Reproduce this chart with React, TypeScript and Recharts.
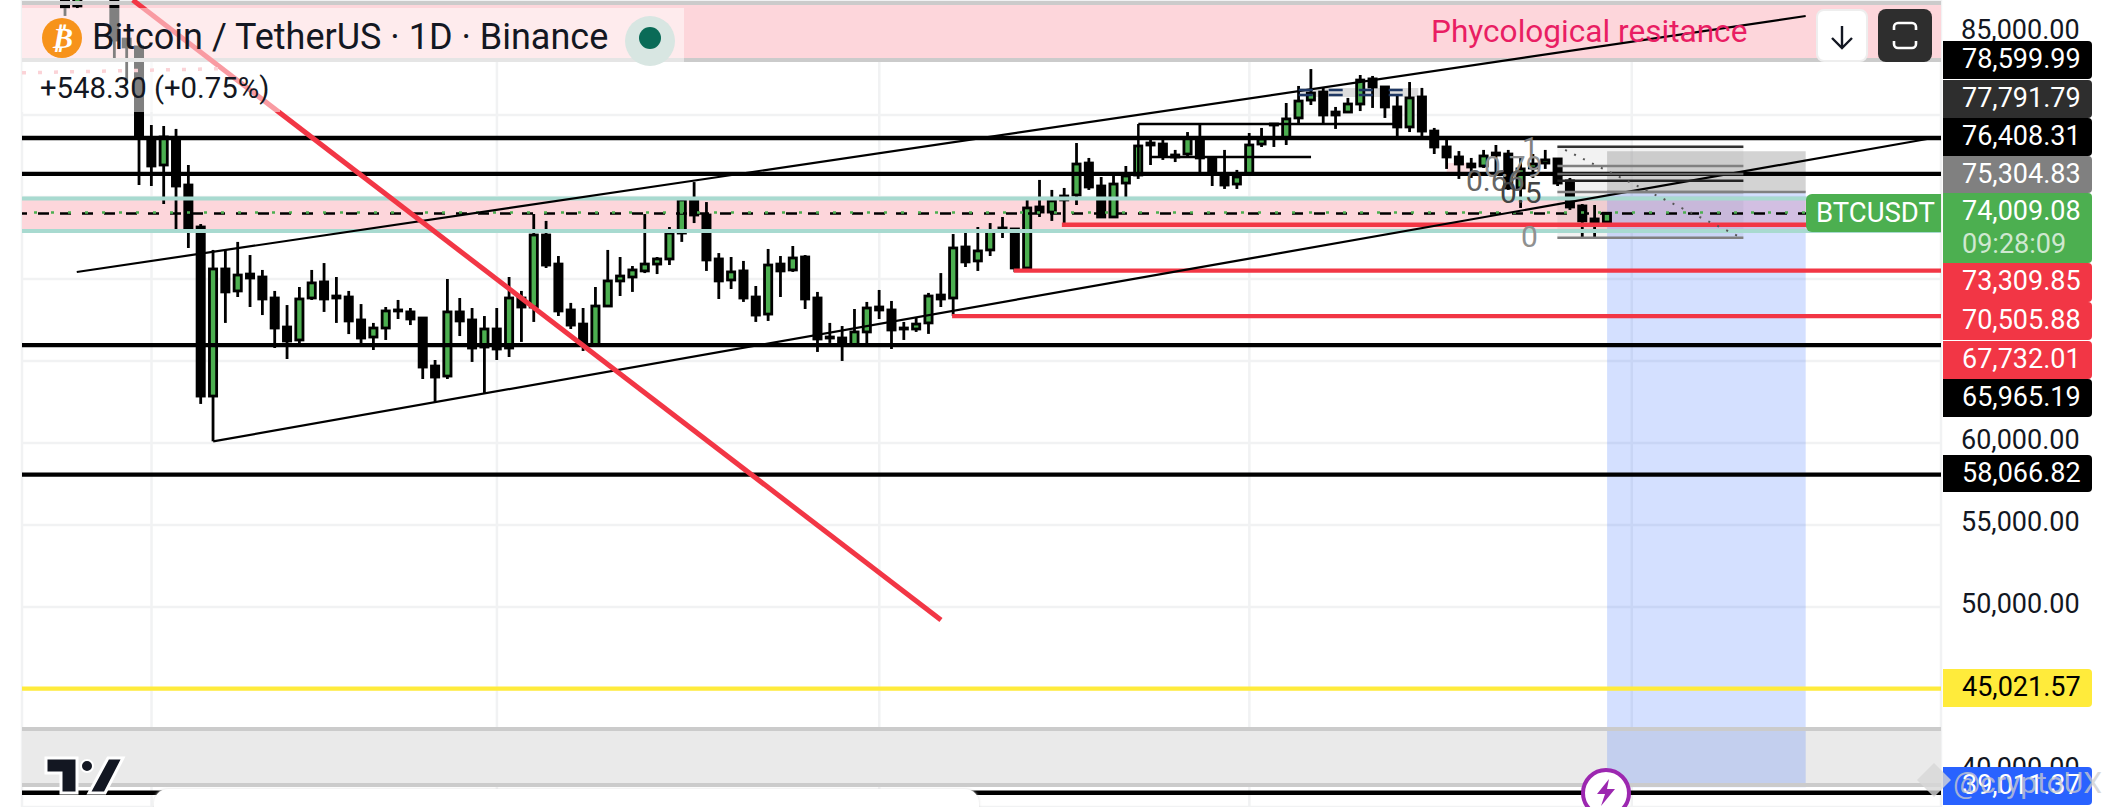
import React from "react";
import {
  Bar,
  CartesianGrid,
  ComposedChart,
  ReferenceArea,
  ReferenceLine,
  XAxis,
  YAxis,
} from "recharts";

const COLORS = {
  up: "#4CAF50",
  ink: "#000000",
  red: "#F23645",
  pink: "#FDD6DB",
  teal: "#A8DAD0",
  grid: "#F1F2F3",
  blue: "#2962FF",
  yellow: "#FFEB3B",
  text: "#131722",
};

const FONT = "Roboto, sans-serif";

const opens = [
  null, null, null, 87320, 86650, null, null, 87320, 84630, 84150,
  78600, 76950, 78540, 75730, 73170, 62860, 70610, 69270, 70300, 70120,
  68840, 67070, 66280, 68840, 69820, 68960, 68900, 67500, 66460, 67010,
  68110, 67990, 67620, 64690, 64080, 67990, 67500, 65850, 66950, 65790,
  68840, 68290, 72680, 70910, 68110, 67250, 65970, 68350, 69880, 70120,
  70490, 70910, 71220, 72800, 74820, 73900, 71220, 69940, 70490, 68900,
  67860, 70910, 70550, 71340, 68840, 66460, 66400, 65970, 66770, 68290,
  68110, 67010, 66950, 67320, 69020, 68840, 71950, 71100, 71770, 73110,
  73050, 70670, 74390, 74080, 74820, 75120, 77070, 75670, 73780, 75850,
  76340, 78290, 78230, 77560, 77620, 78540, 77380, 76280, 75790, 76400,
  78230, 79450, 78600, 79820, 80910, 81400, 80180, 80180, 80670, 82200,
  81710, 80490, 79270, 81100, 79020, 78050, 77440, 77010, 76890, 77680,
  77620, 75550, 76770, 77070, 77320, 75980, 74450, 73660, 73474,
];
const highs = [
  null, null, null, 87620, 87620, null, null, 87620, 84630, 84150,
  79390, 79330, 79150, 76950, 73350, 71770, 71770, 72260, 71460, 70550,
  69270, 68410, 69510, 70550, 70970, 70120, 69270, 68470, 67320, 68290,
  68720, 68230, 67680, 65060, 70000, 68840, 68230, 67740, 68230, 70120,
  69270, 73960, 73540, 71400, 68540, 68230, 69510, 71770, 71340, 70790,
  73960, 71340, 73170, 74820, 75910, 74690, 71580, 71340, 71100, 69570,
  71830, 71400, 72010, 71460, 69210, 67320, 67130, 68170, 68600, 69330,
  68660, 67380, 67620, 69150, 70360, 72740, 72870, 73170, 73410, 73780,
  73050, 74880, 76040, 75430, 75550, 78290, 77380, 76220, 76280, 76890,
  78110, 78540, 78540, 77870, 78960, 79450, 77380, 77870, 76650, 78900,
  79210, 79450, 80730, 81770, 82800, 81650, 80490, 81040, 82440, 82380,
  81710, 81280, 82010, 81650, 79210, 78480, 77800, 77380, 77870, 78170,
  77870, 77380, 77620, 77870, 77320, 76160, 74570, 74510, 74009,
];
const lows = [
  null, null, null, 86040, 86520, null, null, 83350, 81950, 75730,
  75670, 74570, 72930, 71890, 62380, 60100, 67320, 68900, 68290, 67800,
  65790, 65120, 65970, 68720, 67990, 67320, 66640, 65970, 65670, 66280,
  67560, 67190, 63900, 62500, 63900, 66520, 64940, 63050, 65060, 65240,
  66160, 67380, 70670, 67740, 66950, 65610, 65970, 68350, 68960, 69210,
  70360, 70300, 70850, 72260, 73410, 70490, 68780, 69390, 68600, 67380,
  67440, 68900, 70430, 68170, 65550, 66100, 65000, 65850, 65970, 67560,
  65730, 66280, 66770, 66650, 68290, 67740, 70730, 70490, 71400, 72500,
  70430, 70550, 73780, 73540, 73290, 74510, 75430, 73780, 73780, 74820,
  76100, 76950, 77260, 77130, 77380, 76520, 75670, 75490, 75490, 76400,
  78050, 78050, 78170, 79510, 80610, 79510, 79150, 80120, 80240, 80430,
  79820, 78600, 78960, 78600, 77620, 76710, 76100, 76160, 76770, 76340,
  75430, 74330, 76160, 76710, 75670, 74210, 72560, 72500, 73230,
];
const closes = [
  null, null, null, 86590, 87320, null, null, 84570, 84150, 78660,
  76890, 78660, 75670, 73110, 62860, 70610, 69210, 70240, 70060, 68780,
  67010, 66220, 68780, 69760, 68780, 68840, 67440, 66400, 67010, 68050,
  68050, 67560, 64630, 64020, 67990, 67440, 65790, 66950, 65730, 68840,
  68290, 72680, 70850, 68050, 67190, 65970, 68350, 69880, 70180, 70550,
  70910, 71220, 72800, 74820, 73900, 71160, 69880, 70430, 68840, 67800,
  70850, 70490, 71280, 68780, 66340, 66400, 65970, 66770, 68230, 68110,
  66890, 66950, 67250, 68960, 68780, 71890, 71040, 71710, 72930, 72990,
  70670, 74330, 74080, 74760, 75060, 77010, 75610, 73780, 75790, 76280,
  78110, 78170, 77500, 77440, 78600, 77380, 76460, 75730, 76220, 78170,
  78540, 79390, 79760, 80850, 81340, 80000, 80000, 80670, 82130, 81710,
  80490, 79270, 81040, 79020, 78050, 77440, 77010, 76830, 77500, 77560,
  75550, 76710, 77010, 77260, 75850, 74390, 73540, 73410, 74009.08,
];

const slotCount = 155;
const monthTicks = [10, 38, 69, 99, 130];
const priceTicks = [85000, 80000, 75000, 70000, 65000, 60000, 55000, 50000, 45000, 40000];

const blackLevels = [78599.99, 76408.31, 65965.19, 58066.82, 38670];
const redLevels = [
  { price: 73309.85, from: 83.8 },
  { price: 70505.88, from: 79.9 },
  { price: 67732.01, from: 74.9 },
];
const bandEdges = [
  { price: 86829, color: "#CBCBCB" },
  { price: 83353, color: "#CBCBCB" },
  { price: 74907, color: COLORS.teal },
  { price: 72925, color: COLORS.teal },
  { price: 42557, color: "#CBCBCB" },
  { price: 39142, color: "#CBCBCB" },
];
const channelUpper = [
  { x: 3.94, y: 70425 },
  { x: 144.1, y: 86036 },
];
const channelLower = [
  { x: 15, y: 60098 },
  { x: 154.4, y: 78597 },
];
const downTrend = [
  { x: 8.48, y: 87012 },
  { x: 74, y: 49204 },
];
const fibLevels = [
  { price: 78066, color: "#333333" },
  { price: 76889, color: "#808080" },
  { price: 76402, color: "#666666" },
  { price: 75993, color: "#222222" },
  { price: 75304, color: "#808080" },
  { price: 72517, color: "#808080" },
];
const fibLabels = [
  { text: "1", left: 1522, top: 148, color: "#808080" },
  { text: "0.79", left: 1484, top: 167, color: "#909090" },
  { text: "0.66", left: 1466, top: 181, color: "#666666" },
  { text: "0.5", left: 1500, top: 193, color: "#444444" },
  { text: "0", left: 1521, top: 237, color: "#909090" },
];

const badgeLabels = [
  "78,599.99", "77,791.79", "76,408.31", "75,304.83", "74,009.08",
  "73,309.85", "70,505.88", "67,732.01", "65,965.19", "58,066.82",
  "45,021.57", "39,011.37",
];
const badgeLook = [
  { top: 41, h: 38, bg: "#000000", fg: "#FFFFFF" },
  { top: 80, h: 38, bg: "#2E2E2E", fg: "#FFFFFF" },
  { top: 118, h: 38, bg: "#000000", fg: "#FFFFFF" },
  { top: 156, h: 37, bg: "#808080", fg: "#FFFFFF" },
  { top: 193, h: 70, bg: COLORS.up, fg: "#FFFFFF" },
  { top: 263, h: 39, bg: COLORS.red, fg: "#FFFFFF" },
  { top: 302, h: 38, bg: COLORS.red, fg: "#FFFFFF" },
  { top: 341, h: 38, bg: COLORS.red, fg: "#FFFFFF" },
  { top: 379, h: 38, bg: "#000000", fg: "#FFFFFF" },
  { top: 455, h: 37, bg: "#000000", fg: "#FFFFFF" },
  { top: 669, h: 38, bg: COLORS.yellow, fg: "#000000" },
  { top: 767, h: 38, bg: COLORS.blue, fg: "#FFFFFF" },
];

const rows = Array.from({ length: slotCount }, (_, i) => ({
  slot: i,
  pos: i,
  open: opens[i] ?? null,
  high: highs[i] ?? null,
  low: lows[i] ?? null,
  close: closes[i] ?? null,
}));

function Candle(props: any) {
  const { x, y, width, height, payload } = props;
  if (payload.high == null) return null;
  const { open, high, low, close } = payload;
  const perPrice = height / (high - low);
  const mid = x + width / 2;
  const top = y + (high - Math.max(open, close)) * perPrice;
  const bottom = y + (high - Math.min(open, close)) * perPrice;
  const isUp = close > open;
  return (
    <g>
      <line x1={mid} x2={mid} y1={y} y2={y + height} stroke={COLORS.ink} strokeWidth={2.8} />
      <rect
        x={mid - 3.6}
        y={top}
        width={7.2}
        height={Math.max(bottom - top, 1)}
        fill={isUp ? COLORS.up : COLORS.ink}
        stroke={COLORS.ink}
        strokeWidth={2.8}
      />
    </g>
  );
}

function AxisTick(props: any) {
  const { y, payload } = props;
  const label = payload.value.toLocaleString("en-US", { minimumFractionDigits: 2 });
  return (
    <text x={1961} y={y} dy={6} textAnchor="start" fontFamily={FONT} fontSize={27} fill={COLORS.text}>
      {label}
    </text>
  );
}

function Overlay({ style, children }: { style: React.CSSProperties; children?: React.ReactNode }) {
  return <div style={{ position: "absolute", ...style }}>{children}</div>;
}

function PriceBadges() {
  return (
    <>
      {badgeLabels.map((label, i) => {
        const look = badgeLook[i];
        return (
          <Overlay
            key={label}
            style={{
              left: 1943,
              top: look.top,
              width: 149,
              height: look.h,
              background: look.bg,
              color: look.fg,
              borderRadius: "0 4px 4px 0",
              fontSize: 27,
              lineHeight: "36px",
              paddingLeft: 19,
              boxSizing: "border-box",
            }}
          >
            {label}
            {i === 4 && <div style={{ color: "#CFE8D0", marginTop: -3 }}>09:28:09</div>}
          </Overlay>
        );
      })}
    </>
  );
}

export default function App() {
  return (
    <div
      style={{
        position: "absolute",
        left: 0,
        top: 0,
        width: 2117,
        height: 807,
        overflow: "hidden",
        background: "#FFFFFF",
        fontFamily: FONT,
      }}
    >
      <ComposedChart
        width={2117}
        height={807}
        data={rows}
        margin={{ top: 0, right: 0, bottom: 0, left: 22 }}
        barCategoryGap={0}
      >
        <CartesianGrid stroke={COLORS.grid} strokeWidth={2.5} />
        <XAxis dataKey="slot" hide ticks={monthTicks} interval={0} padding={{ left: 0, right: 7 }} />
        <XAxis
          xAxisId="t"
          dataKey="pos"
          type="number"
          hide
          domain={[-0.5, 155.07]}
          allowDataOverflow
        />
        <YAxis
          orientation="right"
          width={176}
          domain={[37800, 87012]}
          allowDataOverflow
          ticks={priceTicks}
          interval={0}
          axisLine={false}
          tickLine={false}
          tick={<AxisTick />}
        />

        <ReferenceArea xAxisId="t" y1={86829} y2={83353} fill={COLORS.pink} fillOpacity={1} ifOverflow="hidden" />
        <ReferenceArea xAxisId="t" y1={74907} y2={72925} fill={COLORS.pink} fillOpacity={1} ifOverflow="hidden" />
        <ReferenceArea xAxisId="t" y1={42557} y2={39142} fill="#EAEAEA" fillOpacity={1} ifOverflow="hidden" />
        {bandEdges.map((edge) => (
          <ReferenceLine key={edge.price} y={edge.price} stroke={edge.color} strokeWidth={4} ifOverflow="hidden" />
        ))}

        <Bar
          dataKey={(d: any) => (d.high == null ? null : [d.low, d.high])}
          barSize={10}
          shape={<Candle />}
          isAnimationActive={false}
        />

        <ReferenceLine y={74000} stroke="#000000" strokeWidth={2.5} strokeDasharray="11 11" />
        <ReferenceLine y={74050} stroke={COLORS.up} strokeWidth={2.5} strokeDasharray="3 14" />
        {blackLevels.map((price) => (
          <ReferenceLine key={price} y={price} stroke="#000000" strokeWidth={4.4} ifOverflow="hidden" />
        ))}
        {redLevels.map((level) => (
          <ReferenceLine
            key={level.price}
            xAxisId="t"
            segment={[
              { x: level.from, y: level.price },
              { x: 155.07, y: level.price },
            ]}
            stroke={COLORS.red}
            strokeWidth={4.4}
            ifOverflow="hidden"
          />
        ))}
        <ReferenceLine y={45021.57} stroke={COLORS.yellow} strokeWidth={4.4} />

        <ReferenceLine xAxisId="t" segment={channelUpper} stroke="#000000" strokeWidth={2.2} ifOverflow="hidden" />
        <ReferenceLine xAxisId="t" segment={channelLower} stroke="#000000" strokeWidth={2.2} ifOverflow="hidden" />
        <ReferenceLine xAxisId="t" segment={downTrend} stroke={COLORS.red} strokeWidth={5} ifOverflow="hidden" />

        <ReferenceLine xAxisId="t" segment={[{ x: 90, y: 79450 }, { x: 110.7, y: 79450 }]} stroke="#000000" strokeWidth={2.5} ifOverflow="hidden" />
        <ReferenceLine xAxisId="t" segment={[{ x: 90, y: 79450 }, { x: 90, y: 76401 }]} stroke="#000000" strokeWidth={2.5} ifOverflow="hidden" />
        <ReferenceLine xAxisId="t" segment={[{ x: 91, y: 77438 }, { x: 104, y: 77438 }]} stroke="#000000" strokeWidth={2.5} ifOverflow="hidden" />

        <ReferenceArea xAxisId="t" x1={103} x2={112.7} y1={81650} y2={81100} fill="#9E9E9E" fillOpacity={0.35} ifOverflow="hidden" />
        <ReferenceLine xAxisId="t" segment={[{ x: 103, y: 81530 }, { x: 112.7, y: 81530 }]} stroke="#1F3864" strokeWidth={2.5} strokeDasharray="14 16" ifOverflow="hidden" />
        <ReferenceLine xAxisId="t" segment={[{ x: 103, y: 81220 }, { x: 112.7, y: 81220 }]} stroke="#1F3864" strokeWidth={2.5} strokeDasharray="14 16" ifOverflow="hidden" />
        <ReferenceArea xAxisId="t" x1={115} x2={117} y1={77070} y2={76520} fill={COLORS.pink} fillOpacity={0.8} ifOverflow="hidden" />

        <ReferenceArea xAxisId="t" x1={123.97} x2={139.05} y1={78066} y2={72517} fill="#808080" fillOpacity={0.1} ifOverflow="hidden" />
        {fibLevels.map((level) => (
          <ReferenceLine
            key={level.price}
            xAxisId="t"
            segment={[
              { x: 123.97, y: level.price },
              { x: 139.05, y: level.price },
            ]}
            stroke={level.color}
            strokeWidth={2.5}
            ifOverflow="hidden"
          />
        ))}
        <ReferenceLine xAxisId="t" segment={[{ x: 124.6, y: 77870 }, { x: 138.6, y: 72620 }]} stroke="#555555" strokeWidth={2} strokeDasharray="2 8" ifOverflow="hidden" />

        <ReferenceArea xAxisId="t" x1={128} x2={144.1} y1={77791.79} y2={75304.83} fill="#9E9E9E" fillOpacity={0.45} ifOverflow="hidden" />
        <ReferenceLine xAxisId="t" segment={[{ x: 128, y: 75304.83 }, { x: 144.1, y: 75304.83 }]} stroke="#808080" strokeWidth={2.5} ifOverflow="hidden" />
        <ReferenceArea xAxisId="t" x1={128} x2={144.1} y1={75304.83} y2={39011.37} fill={COLORS.blue} fillOpacity={0.2} ifOverflow="hidden" />

        <ReferenceLine xAxisId="t" segment={[{ x: -0.5, y: 82570 }, { x: 15.5, y: 82820 }]} stroke="#F7A6AE" strokeWidth={3.5} strokeDasharray="4 12" ifOverflow="hidden" />
      </ComposedChart>

      {fibLabels.map((l) => (
        <Overlay
          key={l.text}
          style={{ left: l.left, top: l.top - 18, fontSize: 30, lineHeight: "36px", color: l.color }}
        >
          {l.text}
        </Overlay>
      ))}

      <Overlay style={{ left: 22, top: 8, width: 662, height: 54, background: "rgba(255,255,255,0.5)" }} />
      <Overlay style={{ left: 22, top: 62, width: 258, height: 50, background: "rgba(255,255,255,0.5)" }} />
      <Overlay style={{ left: 42, top: 18, width: 40, height: 40, borderRadius: 20, background: "#F7931A", color: "#FFFFFF", fontSize: 30, fontWeight: 700, lineHeight: "40px", textAlign: "center", fontFamily: "DejaVu Sans", fontStyle: "italic" }}>
        ₿
      </Overlay>
      <Overlay style={{ left: 92, top: 16, fontSize: 36, lineHeight: "42px", color: COLORS.text, whiteSpace: "nowrap" }}>
        Bitcoin / TetherUS · 1D · Binance
      </Overlay>
      <Overlay style={{ left: 625, top: 16, width: 50, height: 50, borderRadius: 25, background: "#D8E6E2" }} />
      <Overlay style={{ left: 639, top: 27, width: 22, height: 22, borderRadius: 11, background: "#0A6B57" }} />
      <Overlay style={{ left: 40, top: 70, fontSize: 29.3, lineHeight: "36px", color: COLORS.text, whiteSpace: "nowrap" }}>
        +548.30 (+0.75%)
      </Overlay>
      <Overlay style={{ left: 1431, top: 13, fontSize: 31.6, lineHeight: "38px", color: "#E91E63", whiteSpace: "nowrap" }}>
        Phycological resitance
      </Overlay>

      <Overlay style={{ left: 1816, top: 9, width: 52, height: 53, background: "#FFFFFF", border: "2px solid #EEEEEE", borderRadius: 8, boxSizing: "border-box" }}>
        <svg width="48" height="49">
          <path d="M24 15 V37 M14 27 L24 37 L34 27" stroke="#131722" strokeWidth="2.4" fill="none" />
        </svg>
      </Overlay>
      <Overlay style={{ left: 1878, top: 9, width: 54, height: 53, background: "#2E2E2E", borderRadius: 8 }}>
        <svg width="54" height="53">
          <path d="M16 21 V18 a4 4 0 0 1 4 -4 H34 a4 4 0 0 1 4 4 V21 M16 32 V35 a4 4 0 0 0 4 4 H34 a4 4 0 0 0 4 -4 V32" stroke="#FFFFFF" strokeWidth="2.6" fill="none" />
        </svg>
      </Overlay>

      <Overlay style={{ left: 1806, top: 194, width: 135, height: 38, background: COLORS.up, color: "#FFFFFF", borderRadius: "6px 0 0 6px", fontSize: 27.5, lineHeight: "38px", paddingLeft: 10, boxSizing: "border-box" }}>
        BTCUSDT
      </Overlay>
      <PriceBadges />

      <Overlay style={{ left: 154, top: 789, width: 825, height: 40, background: "#FFFFFF", borderRadius: 14, boxShadow: "0 0 3px #DDDDDD" }} />
      <Overlay style={{ left: 1581, top: 768, width: 50, height: 50, borderRadius: 25, background: "#FFFFFF", border: "4px solid #9C27B0", boxSizing: "border-box" }}>
        <svg width="42" height="42">
          <path d="M24 7 L12 22 H20 L16 34 L30 17 H22 Z" fill="#9C27B0" />
        </svg>
      </Overlay>
      <Overlay style={{ left: 40, top: 750, width: 90, height: 46 }}>
        <svg width="90" height="46">
          <path d="M6 8 H37 V43 H21 V23 H6 Z M68 8 H83 L65 43 H49 Z" fill="#131722" stroke="#FFFFFF" strokeWidth="3" />
          <circle cx="47" cy="16" r="6" fill="#131722" stroke="#FFFFFF" strokeWidth="2" />
        </svg>
      </Overlay>
      <Overlay style={{ left: 1922, top: 768, width: 24, height: 24, background: "rgba(215,215,215,0.8)", transform: "rotate(45deg)" }} />
      <Overlay style={{ left: 1953, top: 764, fontSize: 30, lineHeight: "38px", color: "rgba(205,205,205,0.75)", whiteSpace: "nowrap" }}>
        @cryptoUX
      </Overlay>
    </div>
  );
}
